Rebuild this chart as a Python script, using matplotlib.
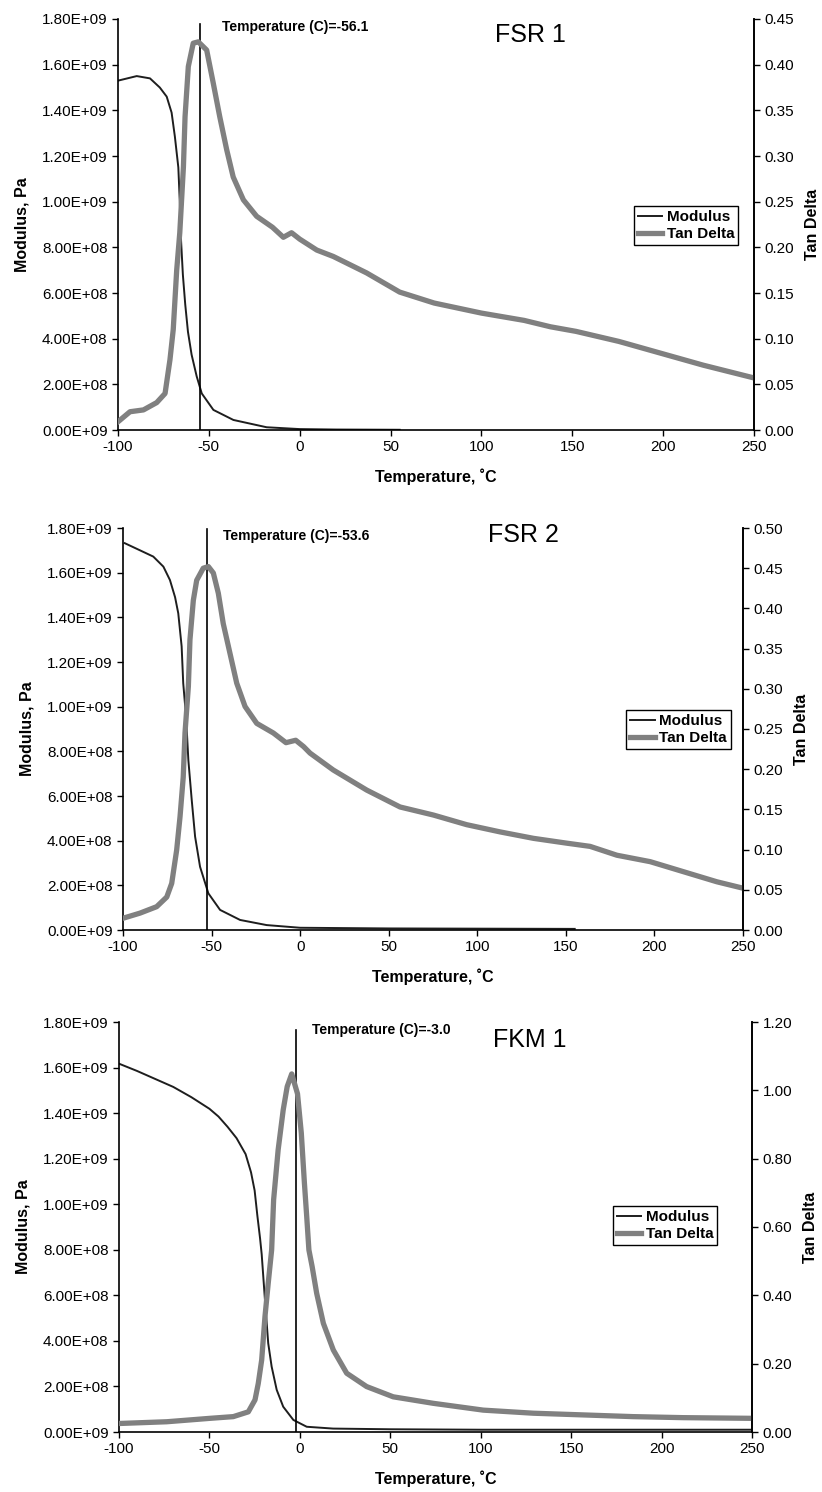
import matplotlib
matplotlib.use("Agg")
import numpy as np
from matplotlib import pyplot as plt

plt.rcParams['font.family'] = ['Liberation Sans', 'DejaVu Sans']
plt.rcParams['axes.unicode_minus'] = False

# ---- data (temperature in C, modulus in 1e9 Pa) ----
fsr1_mod_T = [-100, -89.7, -82.4, -77, -73.2, -70.5, -68.7, -66.8, -66.0, -65.3, -64.3, -63.0,
              -61.5, -59.5, -56.7, -53.9, -47.5, -36.5, -18.2, 0, 20, 55]
fsr1_mod = [1.53, 1.55, 1.54, 1.50, 1.46, 1.39, 1.285, 1.15, 1.00, 0.83, 0.68, 0.55,
            0.43, 0.33, 0.235, 0.16, 0.088, 0.044, 0.012, 0.004, 0.002, 0.001]
fsr1_tan_T = [-100, -93.4, -86, -78.7, -74.1, -71.4, -69.6, -67.7, -66.0, -64, -63.1, -61.3,
              -58.6, -55.8, -51.2, -47.6, -44, -40.2, -36.6, -31, -23.7, -15, -9, -4.5, 0,
              9.4, 18.5, 36.8, 55, 74, 100, 123.5, 138, 152, 175.6, 198.8, 222, 250]
fsr1_tan = [0.009, 0.020, 0.022, 0.030, 0.040, 0.077, 0.11, 0.175, 0.216, 0.288, 0.343, 0.398,
            0.4235, 0.425, 0.416, 0.380, 0.343, 0.307, 0.277, 0.252, 0.234, 0.222, 0.211, 0.216, 0.209,
            0.197, 0.19, 0.172, 0.151, 0.139, 0.128, 0.120, 0.113, 0.108, 0.097, 0.084, 0.071, 0.057]

fsr2_mod_T = [-99, -90.4, -82.9, -77.2, -73.5, -70.6, -68.8, -66.9, -66, -64.4, -63.7, -63.1,
              -61.2, -59.3, -56.5, -51.8, -45.2, -33.9, -18.9, 0, 50, 100, 155]
fsr2_mod = [1.732, 1.70, 1.672, 1.627, 1.567, 1.49, 1.418, 1.27, 1.105, 0.955, 0.85, 0.76,
            0.582, 0.418, 0.283, 0.164, 0.09, 0.045, 0.022, 0.01, 0.007, 0.006, 0.005]
fsr2_tan_T = [-100, -90.4, -81, -75.3, -72.5, -69.7, -67.8, -66, -65, -63.1, -62.2, -60.3, -58.4,
              -54.7, -51.8, -49, -46.2, -43.4, -39.6, -35.8, -31.1, -24.5, -15.1, -8, -2.5, 2,
              5.6, 18.7, 37.6, 56.4, 75.2, 94, 112.9, 131.7, 150.5, 163.7, 178.8, 197.6, 216.4,
              235.2, 250]
fsr2_tan = [0.0146, 0.021, 0.029, 0.041, 0.058, 0.0995, 0.141, 0.19, 0.245, 0.303, 0.361, 0.41, 0.435,
            0.45, 0.452, 0.444, 0.419, 0.381, 0.344, 0.307, 0.278, 0.257, 0.245, 0.233, 0.236, 0.228,
            0.22, 0.199, 0.174, 0.153, 0.143, 0.131, 0.122, 0.114, 0.108, 0.104, 0.093, 0.085, 0.0725,
            0.060, 0.052]

fkm1_mod_T = [-100, -90, -80, -70, -60, -50, -45, -40, -35, -30, -27, -25, -23.5, -22, -21.1,
              -19.3, -17.5, -15.6, -12.8, -9.2, -3.6, 3.8, 18.4, 50, 100, 150, 200, 250]
fkm1_mod = [1.617, 1.585, 1.55, 1.515, 1.47, 1.419, 1.385, 1.34, 1.29, 1.22, 1.14, 1.06, 0.95,
            0.85, 0.78, 0.58, 0.39, 0.287, 0.185, 0.111, 0.053, 0.023, 0.015, 0.012, 0.01, 0.01,
            0.01, 0.01]
fkm1_tan_T = [-99.4, -73.6, -49.7, -36.8, -28.5, -24.8, -23, -21.1, -19.3, -17.5, -15.6, -14.5,
              -12, -9.2, -7, -4.5, -1.3, 0.8, 2.5, 3.8, 5, 6.8, 9.3, 13, 18.5, 25.9, 36.9, 51.6,
              73.7, 101.4, 129, 156.7, 184.3, 212, 250]
fkm1_tan = [0.025, 0.030, 0.040, 0.045, 0.059, 0.094, 0.142, 0.211, 0.337, 0.435, 0.533, 0.68,
            0.826, 0.943, 1.011, 1.048, 0.99, 0.875, 0.73, 0.63, 0.533, 0.484, 0.406, 0.318, 0.24,
            0.172, 0.133, 0.103, 0.084, 0.064, 0.055, 0.05, 0.045, 0.042, 0.040]

x_ticks = [-100, -50, 0, 50, 100, 150, 200, 250]
mod_ticks = [0, 0.2, 0.4, 0.6, 0.8, 1.0, 1.2, 1.4, 1.6, 1.8]
mod_labels = ["0.00E+09", "2.00E+08", "4.00E+08", "6.00E+08", "8.00E+08",
              "1.00E+09", "1.20E+09", "1.40E+09", "1.60E+09", "1.80E+09"]

panels = [
    dict(name="FSR 1", mT=fsr1_mod_T, m=fsr1_mod, tT=fsr1_tan_T, t=fsr1_tan, tmax=0.45, tstep=0.05,
         vline=-55.0, vtop=0.988, note="Temperature (C)=-56.1", note_x=0.1635,
         rect=[118/822, 1-430/1492, 636/822, 411/1492], title_xy=(530, 35), leg=(0.975, 0.497)),
    dict(name="FSR 2", mT=fsr2_mod_T, m=fsr2_mod, tT=fsr2_tan_T, t=fsr2_tan, tmax=0.50, tstep=0.05,
         vline=-52.6, vtop=0.998, note="Temperature (C)=-53.6", note_x=0.161,
         rect=[123/822, 1-930/1492, 620/822, 402/1492], title_xy=(523, 535), leg=(0.98, 0.499)),
    dict(name="FKM 1", mT=fkm1_mod_T, m=fkm1_mod, tT=fkm1_tan_T, t=fkm1_tan, tmax=1.20, tstep=0.20,
         vline=-2.2, vtop=0.98, note="Temperature (C)=-3.0", note_x=0.305,
         rect=[119/822, 1-1432/1492, 633/822, 410/1492], title_xy=(530, 1040), leg=(0.945, 0.503)),
]

fig = plt.figure(figsize=(8.22, 14.92), dpi=100)

for p in panels:
    ax = fig.add_axes(p["rect"])
    ax2 = ax.twinx()

    l1, = ax.plot(p["mT"], np.array(p["m"]) * 1e9, color="#1e1e1e", lw=1.4, label="Modulus")
    l2, = ax2.plot(p["tT"], p["t"], color="#808080", lw=3.8, label="Tan Delta")
    ax.axvline(p["vline"], ymin=0, ymax=p["vtop"], color="black", lw=1.2, zorder=5)

    ax.set_xlim(-100, 250)
    ax.set_ylim(0, 1.8e9)
    ax2.set_ylim(0, p["tmax"])
    ax.set_xticks(x_ticks)
    ax.set_yticks(np.array(mod_ticks) * 1e9)
    ax.set_yticklabels(mod_labels)
    tt = np.arange(0, p["tmax"] + 1e-9, p["tstep"])
    ax2.set_yticks(tt)
    ax2.set_yticklabels(["%.2f" % v for v in tt])

    for a in (ax, ax2):
        a.spines["top"].set_visible(False)
        for s in a.spines.values():
            s.set_linewidth(1.2)
        a.tick_params(direction="out", length=4, width=1, labelsize=11)
    ax2.spines["left"].set_visible(False)
    ax2.spines["bottom"].set_visible(False)

    ax.set_xlabel("Temperature, \u02daC", fontsize=11.5, fontweight="bold", labelpad=10)
    ax.set_ylabel("Modulus, Pa", fontsize=11.5, fontweight="bold", labelpad=9)
    ax2.set_ylabel("Tan Delta", fontsize=11.5, fontweight="bold", labelpad=8)

    ax.text(p["note_x"], 0.98, p["note"], transform=ax.transAxes, fontsize=10,
            fontweight="bold", ha="left", va="center")
    fig.text(p["title_xy"][0] / 822, 1 - p["title_xy"][1] / 1492, p["name"],
             fontsize=18, ha="center", va="center")

    leg = ax2.legend([l1, l2], ["Modulus", "Tan Delta"], loc="center right",
                     bbox_to_anchor=p["leg"], prop={"weight": "bold", "size": 11},
                     fancybox=False, framealpha=1, edgecolor="black", borderpad=0.25,
                     handlelength=1.6, handletextpad=0.3, labelspacing=0.2, borderaxespad=0)
    leg.get_frame().set_linewidth(1.0)

fig.savefig("out.png", dpi=100)
